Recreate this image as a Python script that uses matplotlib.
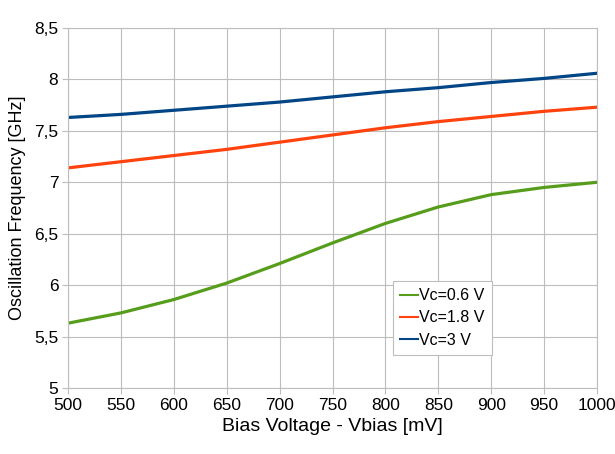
import matplotlib.pyplot as plt
from matplotlib.ticker import FuncFormatter

plt.rcParams['font.family'] = ['Liberation Sans', 'DejaVu Sans']

vbias = [500, 550, 600, 650, 700, 750, 800, 850, 900, 950, 1000]
f_06 = [5.63, 5.73, 5.86, 6.02, 6.21, 6.41, 6.60, 6.76, 6.88, 6.95, 7.00]
f_18 = [7.14, 7.20, 7.26, 7.32, 7.39, 7.46, 7.53, 7.59, 7.64, 7.69, 7.73]
f_30 = [7.63, 7.66, 7.70, 7.74, 7.78, 7.83, 7.88, 7.92, 7.97, 8.01, 8.06]

fig = plt.figure(figsize=(6.15, 4.54), dpi=100)
ax = fig.add_axes([68 / 615, 1 - 388 / 454, (597 - 68) / 615, (388 - 28) / 454])

ax.plot(vbias, f_06, color='#579d1c', lw=2.3, label='Vc=0.6 V')
ax.plot(vbias, f_18, color='#ff420e', lw=2.3, label='Vc=1.8 V')
ax.plot(vbias, f_30, color='#004586', lw=2.3, label='Vc=3 V')

ax.set_xlim(500, 1000)
ax.set_ylim(5, 8.5)
ax.set_xticks(range(500, 1001, 50))
ax.set_yticks([5 + 0.5 * i for i in range(8)])
ax.yaxis.set_major_formatter(FuncFormatter(lambda v, p: ('%g' % v).replace('.', ',')))
ax.grid(True, color='#bdbdbd', lw=0.8)
ax.set_axisbelow(True)
for s in ax.spines.values():
    s.set_color('#bdbdbd')
ax.tick_params(length=4, color='#bdbdbd', labelsize=12.5, labelcolor='black', pad=3)
ax.set_xlabel('Bias Voltage - Vbias [mV]', fontsize=14, labelpad=4)
ax.set_ylabel('Oscillation Frequency [GHz]', fontsize=13, labelpad=6)

leg = ax.legend(loc='upper left', bbox_to_anchor=((393 - 68) / 529, 1 - (281 - 28) / 360),
                fontsize=11.5, handlelength=1.1, handletextpad=0.1, borderpad=0.45,
                labelspacing=0.45, borderaxespad=0, fancybox=False, framealpha=1)
leg.get_frame().set_edgecolor('#bdbdbd')
leg.get_frame().set_linewidth(0.8)
for h in leg.get_lines():
    h.set_linewidth(1.5)

fig.savefig('out.png')
